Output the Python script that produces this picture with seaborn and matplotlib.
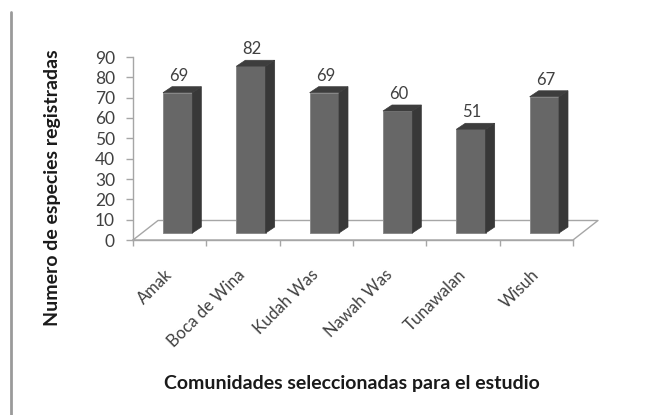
import matplotlib
matplotlib.use("Agg")
import matplotlib.pyplot as plt
import seaborn as sns
import pandas as pd
from matplotlib.transforms import ScaledTranslation, IdentityTransform
from matplotlib.patches import Polygon
from matplotlib.lines import Line2D

comunidades = ["Amak", "Boca de Wina", "Kudah Was", "Nawah Was", "Tunawalan", "Wisuh"]
especies = [69, 82, 69, 60, 51, 67]
yticks = [0, 10, 20, 30, 40, 50, 60, 70, 80, 90]

df = pd.DataFrame({"comunidad": comunidades, "especies": especies})

sns.set_theme(style="white")
plt.rcParams["font.family"] = ["Lato", "DejaVu Sans"]

W, H = 649, 415
DPI = 100
fig = plt.figure(figsize=(W / DPI, H / DPI), dpi=DPI)
ax = fig.add_axes([133 / W, (H - 240) / H, (573 - 133) / W, (240 - 57) / H])
ax.patch.set_visible(False)

FRONT = "#676767"
SIDE = "#383838"
TOP = "#3d3d3d"
AXC = "#a6a6a6"
TXT = "#404040"

sns.barplot(data=df, x="comunidad", y="especies", ax=ax, color=FRONT,
            width=0.4, saturation=1, edgecolor="#8a8a8a", linewidth=0.7, zorder=3)
ax.set_xlim(-0.5, 5.5)
ax.set_ylim(0, 90)

# bar lift / shift (pixels) inside the 3D floor and bar depth
dx0, dy0 = 8, 7
ddx, ddy = 9, 6
shift = ScaledTranslation(dx0 / DPI, dy0 / DPI, fig.dpi_scale_trans)
bars = list(ax.patches)
for p in bars:
    p.set_transform(ax.transData + shift)
    p.set_clip_on(False)

fig.canvas.draw()
for p in bars:
    x0, y0 = p.get_x(), p.get_y()
    x1, y1 = x0 + p.get_width(), y0 + p.get_height()
    (px0, py0), (px1, py1) = p.get_data_transform().transform([(x0, y0), (x1, y1)])
    side = Polygon([(px1, py0), (px1 + ddx, py0 + ddy), (px1 + ddx, py1 + ddy), (px1, py1)],
                   closed=True, facecolor=SIDE, edgecolor=SIDE, linewidth=0.5,
                   transform=IdentityTransform(), zorder=4)
    top = Polygon([(px0, py1), (px0 + ddx, py1 + ddy), (px1 + ddx, py1 + ddy), (px1, py1)],
                  closed=True, facecolor=TOP, edgecolor=TOP, linewidth=0.5,
                  transform=IdentityTransform(), zorder=4)
    fig.add_artist(side)
    fig.add_artist(top)

# floor parallelogram (drawn behind the axes content)
fdx, fdy = 25, 19.5
(fx0, fy0), (fx1, fy1) = ax.transData.transform([(-0.5, 0), (5.5, 0)])
floor_pts = [(fx0, fy0), (fx1, fy0), (fx1 + fdx, fy0 + fdy), (fx0 + fdx, fy0 + fdy), (fx0, fy0)]
xs, ys = zip(*floor_pts)
fig.add_artist(Line2D(xs, ys, color=AXC, linewidth=1.0, transform=IdentityTransform(), zorder=-1))

# value labels
for i, v in enumerate(especies):
    ax.annotate(str(v), xy=(i, v), xytext=(dx0 + 1, dy0 + 12), textcoords="offset pixels",
                ha="center", va="baseline", fontsize=12, color=TXT,
                annotation_clip=False, zorder=6)

# axes styling
for s in ["top", "right"]:
    ax.spines[s].set_visible(False)
ax.spines["left"].set_color(AXC)
ax.spines["bottom"].set_color(AXC)
ax.spines["left"].set_linewidth(1.0)
ax.spines["bottom"].set_linewidth(1.0)
ax.set_yticks(yticks)
ax.set_yticklabels([str(t) for t in yticks])
ax.tick_params(axis="y", direction="out", length=5, width=1.0, color=AXC,
               labelsize=12.5, labelcolor=TXT, pad=8, left=True)
ax.set_xticks(range(len(comunidades)))
ax.set_xticks([i - 0.5 for i in range(len(comunidades) + 1)], minor=True)
ax.tick_params(axis="x", which="minor", direction="out", length=4.5, width=1.0, color=AXC, bottom=True)
ax.tick_params(axis="x", which="major", length=0, pad=23, labelsize=12, labelcolor=TXT)
for lab in ax.get_xticklabels():
    lab.set_rotation(45)
    lab.set_ha("right")
    lab.set_va("center")
    lab.set_rotation_mode("anchor")
ax.set_xlabel("")
ax.set_ylabel("")

fig.text(53 / W, 1 - 188 / H, "Numero de especies registradas", rotation=90,
         ha="center", va="center", fontsize=14, fontweight="bold", color="#1a1a1a")
fig.text(352 / W, 1 - 383 / H, "Comunidades seleccionadas para el estudio",
         ha="center", va="center", fontsize=14, fontweight="bold", color="#1a1a1a")

# left vertical rule
fig.add_artist(Line2D([11 / W, 11 / W], [0, 1 - 12 / H], transform=fig.transFigure,
                      color="#9a9a9a", linewidth=2))

fig.savefig("out.png", dpi=DPI)
